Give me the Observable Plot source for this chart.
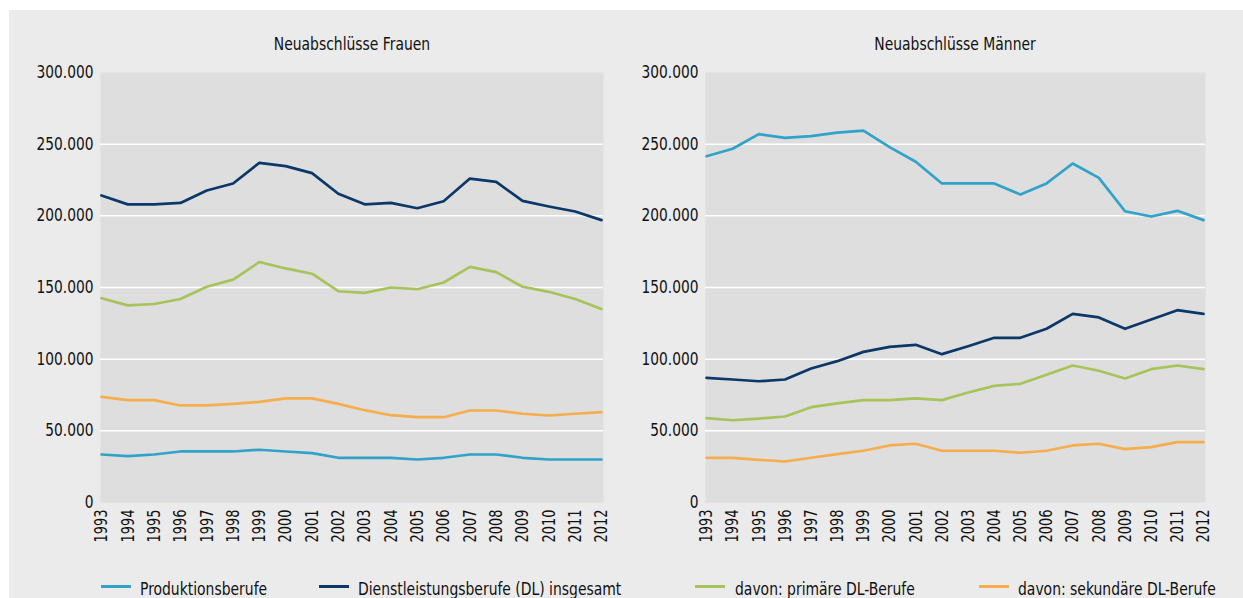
<!DOCTYPE html>
<html>
<head>
<meta charset="utf-8">
<script src="https://cdn.jsdelivr.net/npm/d3@7"></script>
<script src="https://cdn.jsdelivr.net/npm/@observablehq/plot@0.6"></script>
<style>
  html, body { margin: 0; padding: 0; background: #ffffff; }
  body { width: 1243px; height: 598px; position: relative; overflow: hidden;
         font-family: "DejaVu Sans Condensed", "Liberation Sans Narrow", sans-serif; }
  #panel { position: absolute; left: 9px; top: 10px; width: 1234px; height: 588px; background: #ebebeb; }
  .chart { position: absolute; top: 0; }
  .title { position: absolute; top: 35px; font-size: 17px; line-height: 19.8px; color: #111; white-space: nowrap; transform: translateX(-50%) scaleX(0.91); }
  .swatch { position: absolute; top: 585px; width: 30px; height: 3px; }
  .legtext { position: absolute; top: 578.5px; font-size: 18px; line-height: 20.9px; color: #111; white-space: nowrap; transform: scaleX(0.86); transform-origin: 0 0; }
</style>
</head>
<body>
<div id="panel"></div>
<div id="root"></div>
<script>
const years = [1993,1994,1995,1996,1997,1998,1999,2000,2001,2002,2003,2004,2005,2006,2007,2008,2009,2010,2011,2012];
const seriesNames = ["Produktionsberufe", "Dienstleistungsberufe (DL) insgesamt", "davon: primäre DL-Berufe", "davon: sekundäre DL-Berufe"];
const seriesColors = ["#31a2c8", "#0b3868", "#a6c45a", "#f6ad4c"];
const yTicks = [0, 50000, 100000, 150000, 200000, 250000, 300000];
const panelTitles = ["Neuabschlüsse Frauen", "Neuabschlüsse Männer"];

// Frauen
const frauenProduktion = [33500,32300,33500,35600,35600,35600,36800,35600,34400,31200,31200,31200,30000,31200,33500,33500,31200,30000,30000,30000];
const frauenDL = [214200,208000,208000,209000,217700,222600,237000,234700,229800,215400,208000,209000,205300,210200,226000,223700,210400,206500,203000,197000];
const frauenPrimaer = [142500,137500,138500,142000,150500,155500,167800,163300,159600,147400,146300,150000,148800,153500,164400,160700,150500,147000,142000,135000];
const frauenSekundaer = [73700,71400,71400,67700,67700,68800,70200,72600,72600,68800,64400,60900,59500,59500,64200,64200,61900,60700,61900,63000];

// Männer
const maennerProduktion = [241600,246800,257000,254400,255600,258100,259500,247900,237700,222600,222600,222600,214900,222600,236500,226500,203200,199500,203500,197000];
const maennerDL = [87000,85800,84600,85800,93500,98600,105100,108600,110000,103500,109000,114900,114900,121200,131600,129100,121200,127700,134200,131600];
const maennerPrimaer = [58800,57400,58500,60000,66500,69100,71400,71400,72600,71400,76700,81400,82800,89100,95600,91900,86500,93000,95600,93000];
const maennerSekundaer = [31200,31200,29800,28600,31200,33700,36100,39800,41000,36100,36100,36100,34700,36100,39800,41000,37200,38600,42100,42100];

const deLocale = d3.formatLocale({decimal: ",", thousands: ".", grouping: [3], currency: ["", "€"]});
const fmt = deLocale.format(",d");

function toRows(arrays) {
  const rows = [];
  arrays.forEach((arr, si) => arr.forEach((v, i) => rows.push({series: seriesNames[si], year: years[i], value: v})));
  return rows;
}

function makeChart(rows, opts) {
  return Plot.plot({
    width: opts.width,
    height: 598,
    marginLeft: opts.marginLeft,
    marginRight: opts.marginRight,
    marginTop: 72,
    marginBottom: 96,
    style: {background: "transparent", fontFamily: '"DejaVu Sans Condensed", "Liberation Sans Narrow", sans-serif', fontSize: "15px", color: "#111"},
    x: {domain: [1993, 2012], insetLeft: 1, insetRight: 2},
    y: {domain: [0, 300000]},
    color: {domain: seriesNames, range: seriesColors},
    marks: [
      Plot.frame({fill: "#dedede", stroke: null}),
      Plot.ruleY(yTicks.filter(t => t > 0 && t < 300000), {stroke: "#ffffff", strokeWidth: 1.5}),
      Plot.axisY(yTicks, {tickSize: 0, tickPadding: 7, tickFormat: fmt, fill: "#111", label: null}),
      Plot.axisX(years, {tickSize: 0, tickPadding: 7, tickRotate: -90, tickFormat: d => String(d), fill: "#111", label: null}),
      Plot.line(rows, {x: "year", y: "value", z: "series", stroke: "series", strokeWidth: 2.7, strokeLinejoin: "round"})
    ]
  });
}

function condense(svg, label, size, ratio) {
  svg.querySelectorAll(`g[aria-label="${label}"] text`).forEach(t => {
    t.style.fontSize = size + "px";
    const w = t.getComputedTextLength();
    t.setAttribute("textLength", (w * ratio).toFixed(2));
    t.setAttribute("lengthAdjust", "spacingAndGlyphs");
  });
}

const root = document.getElementById("root");

const left = makeChart(toRows([frauenProduktion, frauenDL, frauenPrimaer, frauenSekundaer]), {width: 620, marginLeft: 100, marginRight: 17});
left.classList.add("chart");
left.style.left = "0px";
root.appendChild(left);

const right = makeChart(toRows([maennerProduktion, maennerDL, maennerPrimaer, maennerSekundaer]), {width: 623, marginLeft: 85, marginRight: 38});
right.classList.add("chart");
right.style.left = "620px";
root.appendChild(right);

[left, right].forEach(svg => {
  condense(svg, "y-axis tick label", 17.4, 0.88);
  condense(svg, "x-axis tick label", 18, 0.8);
});

// Titles
[[panelTitles[0], 351.5], [panelTitles[1], 955]].forEach(([t, cx]) => {
  const d = document.createElement("div");
  d.className = "title";
  d.textContent = t;
  d.style.left = cx + "px";
  root.appendChild(d);
});

// Legend
const swatchX = [101, 319, 695, 979];
const textX = [140, 358, 735, 1018];
seriesNames.forEach((name, i) => {
  const s = document.createElement("div");
  s.className = "swatch";
  s.style.left = swatchX[i] + "px";
  s.style.background = seriesColors[i];
  root.appendChild(s);
  const t = document.createElement("div");
  t.className = "legtext";
  t.style.left = textX[i] + "px";
  t.textContent = name;
  root.appendChild(t);
});
</script>
</body>
</html>
